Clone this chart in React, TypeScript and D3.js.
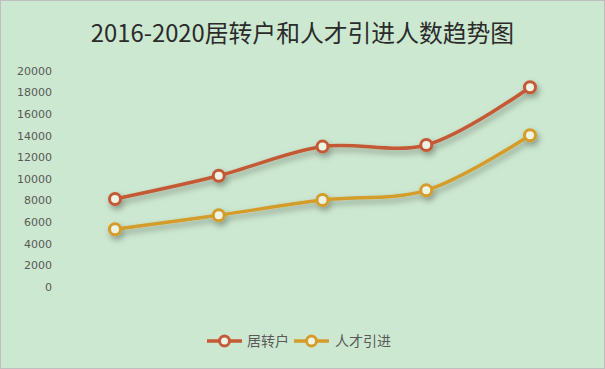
import React, { useEffect, useRef } from 'react';
import * as d3 from 'd3';

const years = ['2016', '2017', '2018', '2019', '2020'];
const hukouValues = [8150, 10300, 13000, 13150, 18500];
const talentValues = [5350, 6650, 8050, 8950, 14050];
const yTicks = [0, 2000, 4000, 6000, 8000, 10000, 12000, 14000, 16000, 18000, 20000];
const seriesNames = ['居转户', '人才引进'];
const seriesColors = ['#c45a36', '#d49c2a'];

const App: React.FC = () => {
  const svgRef = useRef<SVGSVGElement>(null);

  useEffect(() => {
    if (!svgRef.current) return;
    const svg = d3.select(svgRef.current);
    svg.selectAll('*').remove();

    const W = 605;
    const H = 369;
    const font = '"Microsoft YaHei", "Noto Sans CJK SC", "DejaVu Sans", sans-serif';

    // background + border
    svg.append('rect')
      .attr('x', 0.5).attr('y', 0.5)
      .attr('width', W - 1).attr('height', H - 1)
      .attr('fill', '#cde8d0')
      .attr('stroke', '#bfbfbf');

    const defs = svg.append('defs');
    const filter = defs.append('filter')
      .attr('id', 'shadow')
      .attr('x', '-10%').attr('y', '-30%')
      .attr('width', '120%').attr('height', '160%');
    filter.append('feDropShadow')
      .attr('dx', 2).attr('dy', 3.5)
      .attr('stdDeviation', 3)
      .attr('flood-color', '#000')
      .attr('flood-opacity', 0.35);

    // title
    svg.append('text')
      .attr('x', W / 2)
      .attr('y', 42)
      .attr('text-anchor', 'middle')
      .attr('font-family', font)
      .attr('font-size', 23.8)
      .attr('fill', '#2b2b2b')
      .text('2016-2020居转户和人才引进人数趋势图');

    const x = d3.scalePoint<string>().domain(years).range([115, 530]);
    const y = d3.scaleLinear().domain([0, 20000]).range([287, 71]);

    // y tick labels
    svg.selectAll('.ytick')
      .data(yTicks)
      .enter()
      .append('text')
      .attr('x', 52)
      .attr('y', d => y(d))
      .attr('dy', '0.35em')
      .attr('text-anchor', 'end')
      .attr('font-family', '"DejaVu Sans", sans-serif')
      .attr('font-size', 11)
      .attr('fill', '#595959')
      .text(d => d);

    const series = [hukouValues, talentValues];
    const line = d3.line<number>()
      .x((d, i) => x(years[i]) as number)
      .y(d => y(d))
      .curve(d3.curveCatmullRom.alpha(0.5));

    series.forEach((vals, si) => {
      const g = svg.append('g').attr('filter', 'url(#shadow)');
      g.append('path')
        .datum(vals)
        .attr('d', line)
        .attr('fill', 'none')
        .attr('stroke', seriesColors[si])
        .attr('stroke-width', 3.5)
        .attr('stroke-linecap', 'round');
      g.selectAll('circle')
        .data(vals)
        .enter()
        .append('circle')
        .attr('cx', (d, i) => x(years[i]) as number)
        .attr('cy', d => y(d))
        .attr('r', 5.5)
        .attr('fill', '#ecf4e6')
        .attr('stroke', seriesColors[si])
        .attr('stroke-width', 3);
    });

    // legend
    const legendItems = [
      { x0: 207, tx: 247 },
      { x0: 294, tx: 335 },
    ];
    legendItems.forEach((li, si) => {
      const ly = 341;
      svg.append('line')
        .attr('x1', li.x0).attr('x2', li.x0 + 35)
        .attr('y1', ly).attr('y2', ly)
        .attr('stroke', seriesColors[si])
        .attr('stroke-width', 3.5);
      svg.append('circle')
        .attr('cx', li.x0 + 17.5).attr('cy', ly)
        .attr('r', 5)
        .attr('fill', '#ecf4e6')
        .attr('stroke', seriesColors[si])
        .attr('stroke-width', 3);
      svg.append('text')
        .attr('x', li.tx)
        .attr('y', ly)
        .attr('dy', '0.35em')
        .attr('font-family', font)
        .attr('font-size', 14)
        .attr('fill', '#595959')
        .text(seriesNames[si]);
    });
  }, []);

  return (
    <svg ref={svgRef} width={605} height={369}
      style={{ position: 'absolute', left: 0, top: 0, display: 'block' }} />
  );
};

export default App;
